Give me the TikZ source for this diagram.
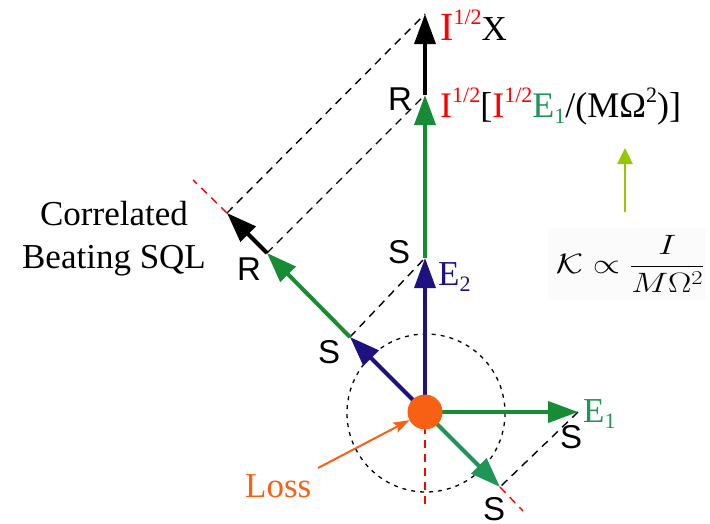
\RequirePackage{fix-cm}
\documentclass[tikz,border=0pt]{standalone}
\usepackage{fontspec}
\setmainfont{Liberation Serif}
\newfontfamily\lsans{Liberation Sans}
\usetikzlibrary{arrows.meta}
\definecolor{myred}{RGB}{255,0,0}
\definecolor{mygreen}{RGB}{24,140,52}
\definecolor{mygreenB}{RGB}{33,148,88}
\definecolor{myblue}{RGB}{30,18,128}
\definecolor{myorange}{RGB}{248,96,20}
\definecolor{mylime}{RGB}{150,200,0}
\newcommand\supr[1]{\raisebox{15pt}{\fontsize{22}{22}\selectfont #1}}
\newcommand\subr[1]{\raisebox{-6pt}{\fontsize{22}{22}\selectfont #1}}
\tikzset{
  vec/.style={line width=3.5pt,-{Triangle[length=30pt,width=21pt]}},
  dvec/.style={line width=4pt,-{Triangle[length=30pt,width=21pt]}},
  guide/.style={line width=1.4pt,dash pattern=on 8pt off 6pt},
  redguide/.style={guide,draw=myred},
  lbl/.style={inner sep=0,anchor=base west,font=\fontsize{35}{42}\selectfont},
  slbl/.style={inner sep=0,anchor=base west,font=\lsans\fontsize{33}{33}\selectfont},
}
\begin{document}
\begin{tikzpicture}[x=1pt,y=-1pt]
\useasboundingbox (0,0) rectangle (710,523);
% geometry
\coordinate (O) at (425,412);
\coordinate (E2) at (425,258);
\coordinate (G) at (425,95);
\coordinate (X) at (425,14);
\coordinate (A1) at (350,337);
\coordinate (A2) at (267,253);
\coordinate (A3) at (227,213);
\coordinate (R1) at (193,180);
\coordinate (E1) at (578,412);
\coordinate (D) at (500,487);
\coordinate (R2) at (523,511);
\coordinate (B) at (425,505);
\coordinate (lossfrom) at (318,468);
\coordinate (limefrom) at (625,212);
\coordinate (limeto) at (625,148);
% formula box
\node[fill=black!1.5,minimum width=158pt,minimum height=72pt,inner sep=0] (kbox) at (627,264) {};
% dotted circle
\draw[line width=1.3pt,dash pattern=on 4pt off 5pt] (426,413) circle[radius=79];
% guides
\draw[guide] (A1) -- (E2);
\draw[guide] (A2) -- (G);
\draw[guide] (A3) -- (X);
\draw[guide] (E1) -- (D);
\draw[redguide] (O) -- (B);
\draw[redguide] (A3) -- (R1);
\draw[redguide] (D) -- (R2);
% vectors
\draw[vec,myblue] (O) -- (E2);
\draw[vec,mygreen] (E2) -- (G);
\draw[vec,black] (G) -- (X);
\draw[dvec,myblue] (O) -- (A1);
\draw[dvec,mygreen] (A1) -- (A2);
\draw[dvec,black] (A2) -- (A3);
\draw[dvec,mygreen] (O) -- (E1);
\draw[dvec,mygreenB] (O) -- (D);
% loss dot
\node[circle,fill=myorange,minimum size=35pt,inner sep=0] (dot) at (O) {};
\draw[line width=2pt,myorange,-{Stealth[length=16pt,width=11pt,inset=3pt]}] (lossfrom) -- (dot);
\draw[line width=2.5pt,mylime,-{Triangle[length=16pt,width=15pt]}] (limefrom) -- (limeto);
% labels
\node[lbl] (ltop) at (440,40) {{\color{myred}\fontsize{40}{40}\selectfont I\raisebox{16pt}{\fontsize{22}{22}\selectfont 1/2}}X};
\node[lbl,font=\fontsize{36}{42}\selectfont] (lmid) at (440,117) {{\color{myred}I\supr{1/2}}[{\color{myred}I\supr{1/2}}{\color{mygreenB}E\subr{1}}/(MΩ\supr{2})]};
\node[lbl,text=myblue] (le2) at (438,285) {E\subr{2}};
\node[lbl,text=mygreenB] (le1) at (583,422) {E\subr{1}};
\node[lbl,anchor=base] (lcor) at (114,225) {Correlated};
\node[lbl,anchor=base] (lbeat) at (114,268) {Beating SQL};
\node[lbl,text=myorange] (lloss) at (245,497) {Loss};
\node[slbl] (lr1) at (388,110) {R};
\node[slbl] (lr2) at (237,280) {R};
\node[slbl] (ls1) at (388,263) {S};
\node[slbl] (ls2) at (318,363) {S};
\node[slbl] (ls3) at (560,448) {S};
\node[slbl] (ls4) at (483,520) {S};
\node[inner sep=0,anchor=base east] (kform) at (705,273) {\scalebox{1.25}[1]{\fontsize{28}{28}\selectfont$\displaystyle\mathcal{K}\propto\frac{I}{M\Omega^2}$}};
\end{tikzpicture}
\end{document}
